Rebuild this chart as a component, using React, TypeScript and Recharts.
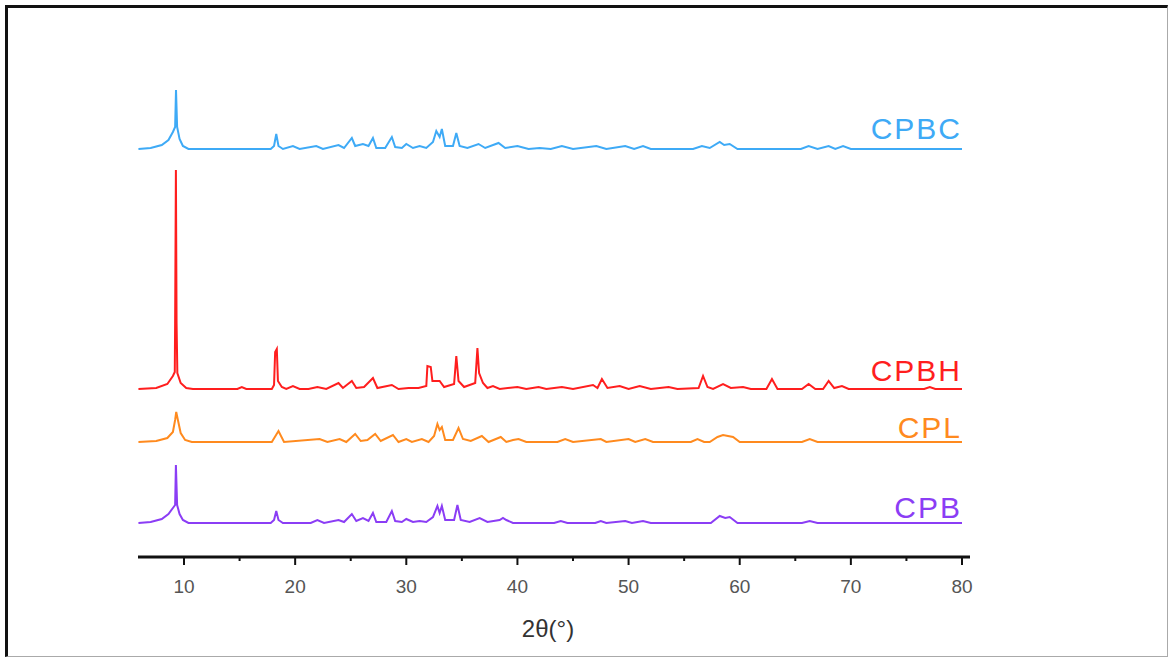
import { LineChart, Line, XAxis, YAxis } from "recharts";

// 2θ (degrees) vs relative intensity (a.u.)
const cpbc: [number, number][] = [
  [5.9, 0], [7.0, 1], [8.0, 4], [8.6, 9], [9.0, 17], [9.2, 22], [9.28, 59], [9.38, 22], [9.6, 10], [9.9, 3], [10.4, 0],
  [17.8, 0], [18.1, 3], [18.3, 15], [18.5, 3], [18.9, 0], [19.8, 3], [20.4, 0], [21.9, 3], [22.5, 0], [23.9, 4], [24.4, 1],
  [25.1, 11], [25.4, 3], [26.1, 5], [26.6, 3], [27.0, 11], [27.3, 1], [28.1, 1], [28.7, 12], [29.0, 2], [29.6, 1], [30.0, 5],
  [30.6, 1], [31.2, 3], [31.8, 1], [32.4, 7], [32.7, 18], [33.0, 12], [33.2, 20], [33.5, 3], [34.2, 3], [34.5, 16], [34.8, 3],
  [35.5, 1], [36.5, 5], [37.1, 1], [38.3, 6], [38.9, 1], [40.0, 3], [41.0, 0], [42.0, 1], [43.0, 0], [44.0, 3], [45.0, 0],
  [47.1, 3], [48.0, 0], [49.7, 3], [50.5, 0], [51.3, 3], [52.0, 0], [55.8, 0], [56.6, 3], [57.3, 1], [58.2, 7], [58.6, 4],
  [59.1, 5], [59.8, 0], [65.5, 0], [66.2, 3], [67.0, 0], [68.0, 3], [68.6, 0], [69.3, 3], [70.0, 0], [80.0, 0],
];

const cpbh: [number, number][] = [
  [5.9, 0], [7.5, 1], [8.5, 5], [9.0, 13], [9.17, 17], [9.2, 66], [9.27, 219], [9.33, 66], [9.4, 16], [9.7, 6], [10.2, 1],
  [10.8, 0], [14.8, 0], [15.2, 2], [15.6, 0], [17.9, 0], [18.1, 4], [18.2, 37], [18.35, 40], [18.45, 8], [18.8, 2], [19.2, 0],
  [19.8, 3], [20.4, 0], [21.2, 0], [22.0, 2], [22.8, 0], [23.9, 6], [24.3, 1], [25.1, 8], [25.5, 1], [26.2, 2], [27.0, 11],
  [27.4, 1], [28.7, 4], [29.3, 0], [30.2, 1], [31.1, 1], [31.8, 3], [31.9, 23], [32.2, 22], [32.35, 8], [33.0, 8], [33.4, 2],
  [34.3, 5], [34.5, 33], [34.7, 8], [35.2, 2], [36.2, 6], [36.4, 41], [36.55, 16], [36.9, 6], [37.3, 1], [37.8, 3], [38.4, 0],
  [40.0, 2], [40.8, 0], [41.9, 2], [42.6, 0], [44.0, 2], [45.0, 0], [46.8, 4], [47.2, 1], [47.6, 10], [48.1, 1], [49.2, 3],
  [50.0, 0], [51.0, 3], [52.0, 0], [53.6, 2], [54.4, 0], [56.3, 1], [56.7, 13], [57.1, 2], [57.6, 0], [58.5, 5], [59.2, 1],
  [60.3, 2], [61.0, 0], [62.4, 0], [62.9, 10], [63.4, 0], [65.6, 0], [66.2, 5], [66.8, 0], [67.5, 0], [68.0, 8], [68.5, 1],
  [69.2, 3], [69.8, 0], [76.6, 0], [77.1, 2], [77.6, 0], [80.0, 0],
];

const cpl: [number, number][] = [
  [5.9, 0], [7.5, 1], [8.5, 4], [9.0, 10], [9.2, 22], [9.3, 30], [9.45, 22], [9.7, 9], [10.1, 2], [10.7, 0], [17.9, 0],
  [18.5, 11], [19.0, 0], [22.2, 3], [22.9, 0], [24.0, 3], [24.6, 0], [25.4, 8], [25.9, 1], [26.5, 2], [27.2, 8], [27.7, 1],
  [28.8, 7], [29.3, 0], [30.0, 3], [30.5, 0], [31.4, 3], [32.0, 0], [32.5, 6], [32.8, 18], [33.0, 12], [33.2, 15], [33.5, 2],
  [34.2, 2], [34.7, 14], [35.1, 3], [35.8, 1], [36.8, 6], [37.4, 0], [38.5, 5], [39.0, 0], [39.6, 2], [40.1, 3], [40.8, 0],
  [43.6, 0], [44.3, 3], [45.0, 0], [47.5, 3], [48.0, 0], [50.0, 3], [50.6, 0], [51.5, 3], [52.2, 0], [55.6, 0], [56.2, 3],
  [56.8, 0], [57.3, 0], [58.0, 5], [58.5, 7], [59.4, 5], [60.0, 0], [65.6, 0], [66.3, 3], [67.0, 0], [80.0, 0],
];

const cpb: [number, number][] = [
  [5.9, 0], [7.0, 1], [8.0, 4], [8.6, 9], [9.0, 15], [9.2, 18], [9.27, 58], [9.38, 18], [9.6, 9], [9.9, 3], [10.4, 0],
  [17.8, 0], [18.1, 3], [18.3, 12], [18.5, 3], [18.9, 0], [21.4, 0], [22.0, 3], [22.6, 0], [23.9, 3], [24.4, 1], [25.1, 9],
  [25.5, 2], [26.1, 5], [26.6, 2], [27.0, 10], [27.3, 1], [28.2, 1], [28.7, 12], [29.0, 2], [29.6, 1], [30.0, 4], [30.6, 1],
  [31.2, 2], [31.8, 1], [32.4, 6], [32.8, 17], [33.0, 10], [33.2, 17], [33.5, 3], [34.3, 3], [34.6, 18], [34.9, 3], [35.7, 1],
  [36.6, 5], [37.3, 1], [38.4, 3], [38.7, 5], [39.0, 3], [39.6, 0], [43.3, 0], [43.9, 2], [44.5, 0], [47.0, 0], [47.5, 2],
  [48.0, 0], [49.7, 2], [50.3, 0], [51.3, 2], [52.0, 0], [57.4, 0], [58.2, 7], [58.7, 5], [59.1, 6], [59.8, 0], [65.6, 0],
  [66.3, 2], [67.0, 0], [80.0, 0],
];

const xTicks = [10, 15, 20, 25, 30, 35, 40, 45, 50, 55, 60, 65, 70, 75, 80];

const series = [
  { name: "CPBC", data: cpbc, offset: 408, color: "#3eaaf6", textY: 139 },
  { name: "CPBH", data: cpbh, offset: 168, color: "#ff1e1e", textY: 381 },
  { name: "CPL", data: cpl, offset: 115, color: "#ff8a1e", textY: 438 },
  { name: "CPB", data: cpb, offset: 34, color: "#8b3df5", textY: 518 },
];

const font = "Arial, 'Liberation Sans', sans-serif";

function Tick(props: any) {
  const { x, y, payload } = props;
  const major = payload.value % 10 === 0;
  return (
    <g>
      <line x1={x} x2={x} y1={y} y2={y + (major ? 8 : 4)} stroke="#111" strokeWidth={2} />
      {major && (
        <text x={x} y={y + 36} textAnchor="middle" fontSize={19} fill="#555" fontFamily={font}>
          {payload.value}
        </text>
      )}
    </g>
  );
}

export default function App() {
  return (
    <div style={{ position: "absolute", left: 0, top: 0, width: 1168, height: 657, background: "#fff" }}>
      <div
        style={{
          position: "absolute",
          left: 5,
          top: 5,
          width: 1159,
          height: 648,
          borderTop: "3px solid #111",
          borderLeft: "3px solid #111",
          borderRight: "1px solid #aaa",
          borderBottom: "1px solid #aaa",
        }}
      />
      <div style={{ position: "absolute", left: 0, top: 0 }}>
        <LineChart width={1168} height={657} margin={{ top: 70, right: 198, left: 138, bottom: 0 }}>
          <XAxis
            type="number"
            dataKey="x"
            domain={[5.86, 80.72]}
            ticks={xTicks}
            tick={<Tick />}
            tickLine={false}
            tickSize={0}
            tickMargin={0}
            axisLine={{ stroke: "#111", strokeWidth: 3 }}
            height={100}
            allowDataOverflow
          />
          <YAxis type="number" domain={[0, 487]} hide />
          {series.map((s) => (
            <Line
              key={s.name}
              data={s.data.map(([x, y]) => ({ x, y: y + s.offset }))}
              dataKey="y"
              type="linear"
              stroke={s.color}
              strokeWidth={2}
              dot={false}
              isAnimationActive={false}
            />
          ))}
        </LineChart>
      </div>
      <svg width={1168} height={657} style={{ position: "absolute", left: 0, top: 0, pointerEvents: "none" }}>
        {series.map((s) => (
          <text
            key={s.name}
            x={962}
            y={s.textY}
            textAnchor="end"
            fontSize={30}
            letterSpacing={2}
            fill={s.color}
            fontFamily={font}
          >
            {s.name}
          </text>
        ))}
        <text x={548} y={637} textAnchor="middle" fontSize={24} fill="#333" fontFamily={font}>
          2θ(°)
        </text>
      </svg>
    </div>
  );
}
